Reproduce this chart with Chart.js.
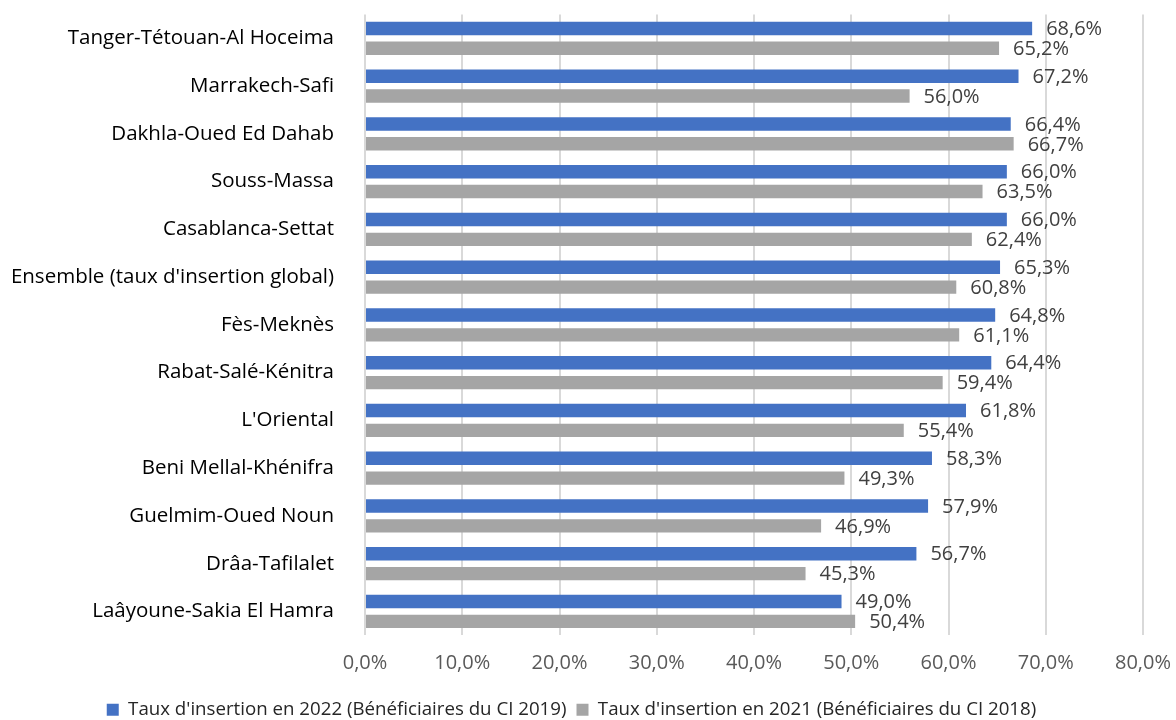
<!DOCTYPE html>
<html>
<head>
<meta charset="utf-8">
<script src="https://cdn.jsdelivr.net/npm/chart.js@4/dist/chart.umd.min.js"></script>
<style>
  html, body { margin: 0; padding: 0; background: #ffffff; }
  #wrap { width: 1176px; height: 720px; }
</style>
</head>
<body>
<div id="wrap"><canvas id="insertionChart"></canvas></div>
<script>
// Régions (de haut en bas)
const regions = [
  'Tanger-Tétouan-Al Hoceima',
  'Marrakech-Safi',
  'Dakhla-Oued Ed Dahab',
  'Souss-Massa',
  'Casablanca-Settat',
  "Ensemble (taux d'insertion global)",
  'Fès-Meknès',
  'Rabat-Salé-Kénitra',
  "L'Oriental",
  'Beni Mellal-Khénifra',
  'Guelmim-Oued Noun',
  'Drâa-Tafilalet',
  'Laâyoune-Sakia El Hamra'
];

// Taux d'insertion (%)
const taux2022 = [68.6, 67.2, 66.4, 66.0, 66.0, 65.3, 64.8, 64.4, 61.8, 58.3, 57.9, 56.7, 49.0];
const taux2021 = [65.2, 56.0, 66.7, 63.5, 62.4, 60.8, 61.1, 59.4, 55.4, 49.3, 46.9, 45.3, 50.4];

const serieLabels = [
  "Taux d'insertion en 2022 (Bénéficiaires du CI 2019)",
  "Taux d'insertion en 2021 (Bénéficiaires du CI 2018)"
];

const xTicks = [0, 10, 20, 30, 40, 50, 60, 70, 80];

const FONT = "'Open Sans', 'Lato', sans-serif";
const fmt = v => v.toFixed(1).replace('.', ',') + '%';

// Étiquettes de valeur à droite de chaque barre
const valueLabels = {
  id: 'valueLabels',
  afterDatasetsDraw(chart) {
    const ctx = chart.ctx;
    ctx.save();
    ctx.font = '20px ' + FONT;
    ctx.fillStyle = '#404040';
    ctx.textAlign = 'left';
    ctx.textBaseline = 'middle';
    chart.data.datasets.forEach((ds, i) => {
      chart.getDatasetMeta(i).data.forEach((bar, j) => {
        ctx.fillText(fmt(ds.data[j]), bar.x + 14, bar.y + 1);
      });
    });
    ctx.restore();
  }
};

const barOpts = { categoryPercentage: 0.8333, barPercentage: 0.675 };

new Chart(document.getElementById('insertionChart'), {
  type: 'bar',
  data: {
    labels: regions,
    datasets: [
      { label: serieLabels[0], data: taux2022, backgroundColor: '#4472c4', ...barOpts },
      { label: serieLabels[1], data: taux2021, backgroundColor: '#a5a5a5', ...barOpts }
    ]
  },
  options: {
    indexAxis: 'y',
    responsive: true,
    maintainAspectRatio: false,
    animation: false,
    layout: { padding: { top: 14.5, right: 33, bottom: -9, left: 0 } },
    plugins: {
      legend: {
        position: 'bottom',
        labels: {
          color: '#262626',
          font: { family: FONT, size: 18.7 },
          boxWidth: 12,
          boxHeight: 12,
          padding: 10
        }
      },
      tooltip: { enabled: false }
    },
    scales: {
      x: {
        min: 0,
        max: 80,
        afterBuildTicks: scale => { scale.ticks = xTicks.map(v => ({ value: v })); },
        afterFit: scale => {
          scale.paddingLeft = 0;
          scale.paddingRight = 0;
        },
        grid: { color: '#d9d9d9', lineWidth: 2, drawTicks: false },
        border: { display: false },
        ticks: {
          color: '#595959',
          font: { family: FONT, size: 20 },
          padding: 15.5,
          callback: v => fmt(v)
        }
      },
      y: {
        grid: { display: false },
        border: { display: false },
        afterFit: scale => {
          scale.width = 365;
          scale.paddingTop = 0;
          scale.paddingBottom = 0;
        },
        ticks: {
          color: '#000000',
          font: { family: FONT, size: 20.5 },
          padding: 23
        }
      }
    }
  },
  plugins: [valueLabels]
});
</script>
</body>
</html>
